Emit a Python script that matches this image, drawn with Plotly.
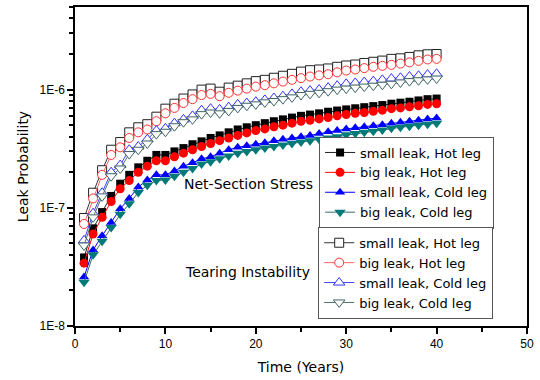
import plotly.graph_objects as go

years = list(range(1, 41))

# Net-Section Stress (filled markers)
small_hot_ns = [3.8e-8, 6.7e-8, 9.2e-8, 1.26e-7, 1.6e-7, 1.9e-7, 2.2e-7, 2.5e-7, 2.8e-7, 2.8e-7,
                3.0e-7, 3.2e-7, 3.45e-7, 3.65e-7, 3.9e-7, 4.1e-7, 4.35e-7, 4.6e-7, 4.8e-7, 5.0e-7,
                5.2e-7, 5.4e-7, 5.6e-7, 5.8e-7, 6.0e-7, 6.15e-7, 6.3e-7, 6.5e-7, 6.65e-7, 6.8e-7,
                6.95e-7, 7.1e-7, 7.25e-7, 7.4e-7, 7.6e-7, 7.75e-7, 7.9e-7, 8.1e-7, 8.3e-7, 8.4e-7]
big_hot_ns = [3.4e-8, 6.0e-8, 8.3e-8, 1.13e-7, 1.45e-7, 1.7e-7, 2.0e-7, 2.25e-7, 2.5e-7, 2.5e-7,
              2.7e-7, 2.9e-7, 3.1e-7, 3.3e-7, 3.5e-7, 3.7e-7, 3.9e-7, 4.1e-7, 4.3e-7, 4.5e-7,
              4.65e-7, 4.85e-7, 5.0e-7, 5.2e-7, 5.4e-7, 5.5e-7, 5.65e-7, 5.8e-7, 6.0e-7, 6.15e-7,
              6.3e-7, 6.4e-7, 6.55e-7, 6.7e-7, 6.9e-7, 7.0e-7, 7.15e-7, 7.3e-7, 7.5e-7, 7.6e-7]
small_cold_ns = [2.6e-8, 4.4e-8, 5.8e-8, 7.5e-8, 9.8e-8, 1.2e-7, 1.5e-7, 1.72e-7, 1.9e-7, 1.9e-7,
                 2.05e-7, 2.25e-7, 2.4e-7, 2.6e-7, 2.7e-7, 2.9e-7, 3.1e-7, 3.25e-7, 3.35e-7, 3.45e-7,
                 3.55e-7, 3.7e-7, 3.8e-7, 3.9e-7, 4.0e-7, 4.1e-7, 4.25e-7, 4.4e-7, 4.5e-7, 4.65e-7,
                 4.75e-7, 4.85e-7, 4.95e-7, 5.05e-7, 5.2e-7, 5.3e-7, 5.4e-7, 5.5e-7, 5.65e-7, 5.75e-7]
big_cold_ns = [2.35e-8, 4.0e-8, 5.2e-8, 6.8e-8, 8.8e-8, 1.08e-7, 1.35e-7, 1.55e-7, 1.7e-7, 1.72e-7,
               1.85e-7, 2.0e-7, 2.15e-7, 2.35e-7, 2.45e-7, 2.6e-7, 2.75e-7, 2.9e-7, 3.0e-7, 3.1e-7,
               3.2e-7, 3.3e-7, 3.4e-7, 3.5e-7, 3.6e-7, 3.7e-7, 3.8e-7, 3.9e-7, 4.0e-7, 4.15e-7,
               4.25e-7, 4.35e-7, 4.45e-7, 4.55e-7, 4.7e-7, 4.8e-7, 4.9e-7, 5.0e-7, 5.1e-7, 5.2e-7]

# Tearing Instability (open markers)
small_hot_ti = [8.2e-8, 1.34e-7, 2.08e-7, 3.1e-7, 3.6e-7, 4.35e-7, 4.8e-7, 5.1e-7, 5.9e-7, 6.9e-7,
                7.6e-7, 8.4e-7, 9.1e-7, 1.0e-6, 1.02e-6, 9.6e-7, 1.04e-6, 1.08e-6, 1.13e-6, 1.18e-6,
                1.21e-6, 1.26e-6, 1.31e-6, 1.36e-6, 1.42e-6, 1.46e-6, 1.48e-6, 1.51e-6, 1.56e-6, 1.6e-6,
                1.63e-6, 1.68e-6, 1.72e-6, 1.76e-6, 1.82e-6, 1.84e-6, 1.89e-6, 1.95e-6, 1.99e-6, 2.0e-6]
big_hot_ti = [7.3e-8, 1.2e-7, 1.9e-7, 2.8e-7, 3.25e-7, 3.9e-7, 4.35e-7, 4.6e-7, 5.4e-7, 6.3e-7,
              7.0e-7, 7.7e-7, 8.3e-7, 9.0e-7, 9.2e-7, 8.8e-7, 9.4e-7, 9.8e-7, 1.02e-6, 1.06e-6,
              1.09e-6, 1.13e-6, 1.17e-6, 1.21e-6, 1.25e-6, 1.29e-6, 1.32e-6, 1.35e-6, 1.4e-6, 1.45e-6,
              1.48e-6, 1.52e-6, 1.56e-6, 1.59e-6, 1.62e-6, 1.66e-6, 1.7e-6, 1.75e-6, 1.8e-6, 1.82e-6]
small_cold_ti = [5.3e-8, 9.0e-8, 1.34e-7, 2.0e-7, 2.3e-7, 3.1e-7, 3.3e-7, 3.8e-7, 4.5e-7, 4.7e-7,
                 5.2e-7, 5.6e-7, 6.0e-7, 6.7e-7, 6.9e-7, 6.8e-7, 7.1e-7, 7.5e-7, 7.7e-7, 7.9e-7,
                 8.2e-7, 8.5e-7, 8.8e-7, 9.2e-7, 9.6e-7, 9.8e-7, 1.0e-6, 1.04e-6, 1.08e-6, 1.12e-6,
                 1.14e-6, 1.16e-6, 1.18e-6, 1.21e-6, 1.24e-6, 1.26e-6, 1.29e-6, 1.31e-6, 1.34e-6, 1.36e-6]
big_cold_ti = [4.8e-8, 8.3e-8, 1.25e-7, 1.85e-7, 2.15e-7, 2.85e-7, 3.1e-7, 3.5e-7, 4.2e-7, 4.4e-7,
               4.9e-7, 5.3e-7, 5.6e-7, 6.2e-7, 6.4e-7, 6.3e-7, 6.6e-7, 7.0e-7, 7.3e-7, 7.5e-7,
               7.8e-7, 8.0e-7, 8.3e-7, 8.6e-7, 9.0e-7, 9.2e-7, 9.4e-7, 9.7e-7, 1.0e-6, 1.02e-6,
               1.04e-6, 1.06e-6, 1.08e-6, 1.1e-6, 1.12e-6, 1.15e-6, 1.18e-6, 1.2e-6, 1.22e-6, 1.24e-6]

labels = ["small leak, Hot leg", "big leak, Hot leg", "small leak, Cold leg", "big leak, Cold leg"]
y_tick_vals = [1e-8, 1e-7, 1e-6]
y_tick_text = ["1E-8", "1E-7", "1E-6"]
x_tick_vals = [0, 10, 20, 30, 40, 50]

FONT = "Liberation Sans, Arial, sans-serif"
WIDE = "DejaVu Sans, Verdana, sans-serif"

fig = go.Figure()

ns_series = [small_hot_ns, big_hot_ns, small_cold_ns, big_cold_ns]
ns_style = [("square", "#000000", "#222222", 8),
            ("circle", "#ff0000", "#ff0000", 9),
            ("triangle-up", "#0000ff", "#0000ff", 9),
            ("triangle-down", "#007a78", "#3a6a6a", 10)]
for vals, lab, (sym, col, lcol, sz) in zip(ns_series, labels, ns_style):
    fig.add_trace(go.Scatter(
        x=years, y=vals, name=lab, mode="lines+markers", legend="legend",
        line=dict(color=lcol, width=1),
        marker=dict(symbol=sym, color=col, size=sz, line=dict(width=0)),
    ))

ti_series = [small_hot_ti, big_hot_ti, small_cold_ti, big_cold_ti]
ti_style = [("square", "#222222", "#333333", 9),
            ("circle", "#ff3030", "#ff6060", 9),
            ("triangle-up", "#3030ff", "#4040ff", 10),
            ("triangle-down", "#3f6464", "#4f7070", 10)]
for vals, lab, (sym, col, lcol, sz) in zip(ti_series, labels, ti_style):
    fig.add_trace(go.Scatter(
        x=years, y=vals, name=lab, mode="lines+markers", legend="legend2",
        line=dict(color=lcol, width=1),
        marker=dict(symbol=sym, color="white", size=sz, line=dict(color=col, width=1)),
    ))

minor_y = [m * 10 ** e for e in (-8, -7) for m in range(2, 10)] + [2e-6, 3e-6, 4e-6, 5e-6]

fig.update_layout(
    width=540, height=380,
    margin=dict(l=75, r=13, t=5, b=54),
    paper_bgcolor="white", plot_bgcolor="white",
    font=dict(family=FONT, color="#000000", size=12),
    xaxis=dict(
        range=[0, 50], tickvals=x_tick_vals, ticks="outside", ticklen=6, tickwidth=1.5,
        tickcolor="black", showline=True, linecolor="black", linewidth=1.5, mirror=True,
        showgrid=False, zeroline=False, tickfont=dict(size=12),
        minor=dict(dtick=5, tick0=0, ticks="outside", ticklen=4, tickcolor="black", showgrid=False),
        title=dict(text="Time (Years)", font=dict(size=14, family=WIDE), standoff=12),
    ),
    yaxis=dict(
        type="log", range=[-8, -5.30103], tickvals=y_tick_vals, ticktext=y_tick_text,
        ticks="outside", ticklen=6, tickwidth=1.5, tickcolor="black",
        showline=True, linecolor="black", linewidth=1.5, mirror=True,
        showgrid=False, zeroline=False, tickfont=dict(size=12),
        minor=dict(tickvals=minor_y, ticks="outside", ticklen=4, tickcolor="black", showgrid=False),
        title=dict(text="Leak Probability", font=dict(size=14, family=WIDE), standoff=8),
    ),
    legend=dict(
        x=0.540, y=0.594, xanchor="left", yanchor="top",
        bordercolor="#555555", borderwidth=1, bgcolor="white",
        font=dict(size=13, family=WIDE), itemwidth=30, tracegroupgap=0,
    ),
    legend2=dict(
        x=0.538, y=0.311, xanchor="left", yanchor="top",
        bordercolor="#555555", borderwidth=1, bgcolor="white",
        font=dict(size=13, family=WIDE), itemwidth=30, tracegroupgap=0,
    ),
    annotations=[
        dict(text="Net-Section Stress", xref="paper", yref="paper", x=0.531, y=0.445,
             xanchor="right", yanchor="middle", showarrow=False, font=dict(size=14, family=WIDE)),
        dict(text="Tearing Instability", xref="paper", yref="paper", x=0.524, y=0.168,
             xanchor="right", yanchor="middle", showarrow=False, font=dict(size=14, family=WIDE)),
    ],
)

fig.write_html("out.html")
